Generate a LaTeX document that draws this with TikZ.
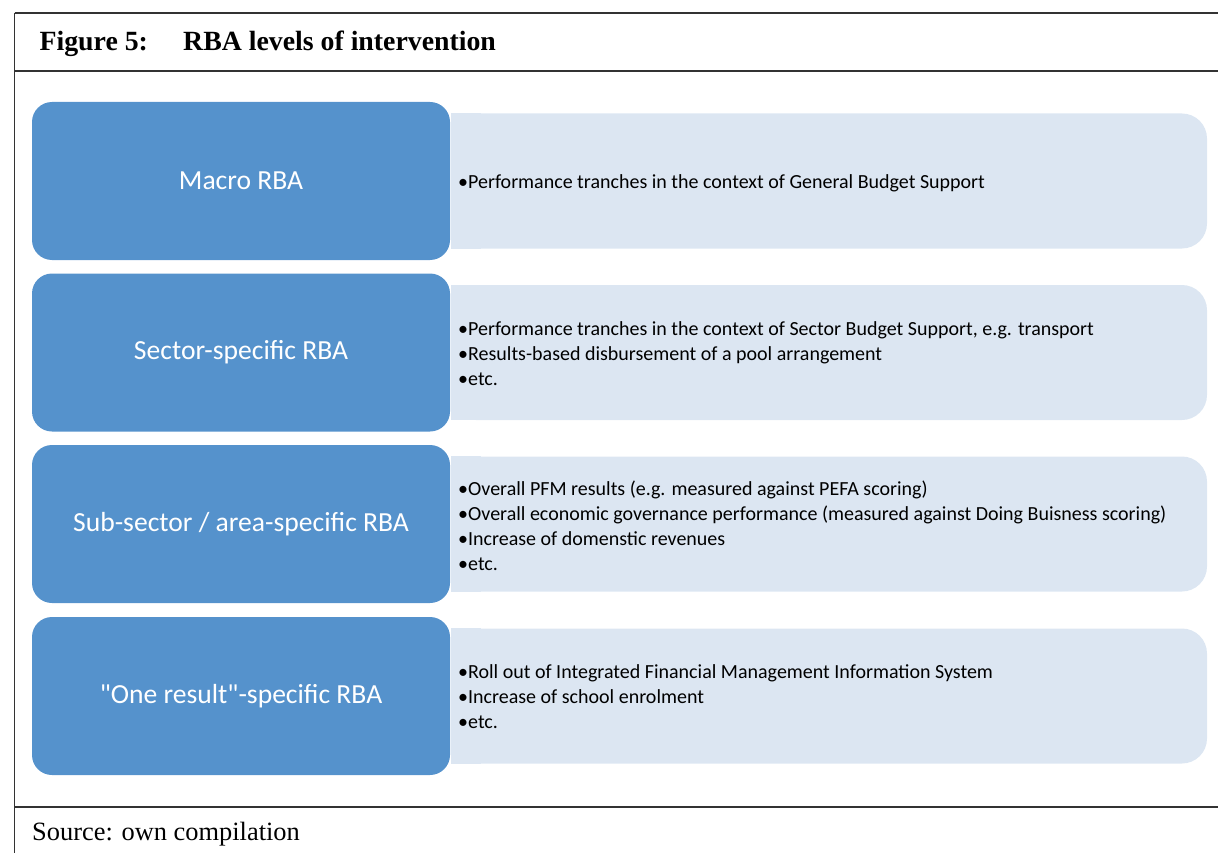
\documentclass[tikz,border=0pt]{standalone}
\usepackage{fontspec}
\setmainfont{Liberation Serif}
\newfontfamily\calibri{Carlito}
\definecolor{darkblue}{HTML}{5592CC}
\definecolor{lightblue}{HTML}{DCE6F2}
\definecolor{frameline}{HTML}{333333}
\tikzset{
  level/.style={fill=darkblue, rounded corners=20pt, minimum width=418pt, minimum height=158pt, inner sep=0pt, text=white, font=\calibri\fontsize{27.6}{32}\selectfont},
  detail/.style={fill=lightblue, rounded corners=25pt, minimum width=756pt, minimum height=135pt, inner sep=0pt},
  detailtext/.style={anchor=west, align=left, inner sep=0pt, font=\calibri\fontsize{20}{25}\selectfont},
  frame/.style={draw=frameline, line width=1.4pt},
  serif/.style={inner sep=0pt, anchor=base west, font=\fontsize{26.4}{32}\selectfont}
}
\begin{document}
\begin{tikzpicture}[x=1pt, y=-1pt]
\useasboundingbox (0,0) rectangle (1218,853);
% frame
\coordinate (tl) at (14.5,13);
\coordinate (tr) at (1218,13);
\coordinate (hl) at (14.5,71);
\coordinate (hr) at (1218,71);
\coordinate (fl) at (14.5,807);
\coordinate (fr) at (1218,807);
\coordinate (bl) at (14.5,853);
\draw[frame] (tl) -- (tr);
\draw[frame] (hl) -- (hr);
\draw[frame] (fl) -- (fr);
\draw[frame] (tl) -- (bl);
% title
\node[serif, font=\bfseries\fontsize{27.8}{32}\selectfont] (fig) at (39.4,50.7) {Figure 5:};
\node[serif, font=\bfseries\fontsize{27.8}{32}\selectfont] (title) at (183,50.7) {RBA levels of intervention};
% rows
\foreach \c/\name in {181/a, 352.5/b, 524/c, 696/d}{
  \node[detail] (l\name) at (829,\c) {};
  \fill[lightblue] (l\name.north west) rectangle ([xshift=30pt]l\name.south west);
}
\node[level] (ba) at (241,181) {Macro RBA};
\node[level] (bb) at (241,352.5) {Sector-specific RBA};
\node[level] (bc) at (241,524) {Sub-sector / area-specific RBA};
\node[level] (bd) at (241,696) {"One result"-specific RBA};
\node[detailtext] (ta) at (458,183) {•Performance tranches in the context of General Budget Support};
\node[detailtext] (tb) at (458,354) {•Performance tranches in the context of Sector Budget Support, e.g. transport\\•Results-based disbursement of a pool arrangement\\•etc.};
\node[detailtext] (tc) at (458,526) {•Overall PFM results (e.g. measured against PEFA scoring)\\•Overall economic governance performance (measured against Doing Buisness scoring)\\•Increase of domenstic revenues\\•etc.};
\node[detailtext] (td) at (458,697) {•Roll out of Integrated Financial Management Information System\\•Increase of school enrolment\\•etc.};
% source
\node[serif] (src) at (32,840) {Source: own compilation};
\end{tikzpicture}
\end{document}
